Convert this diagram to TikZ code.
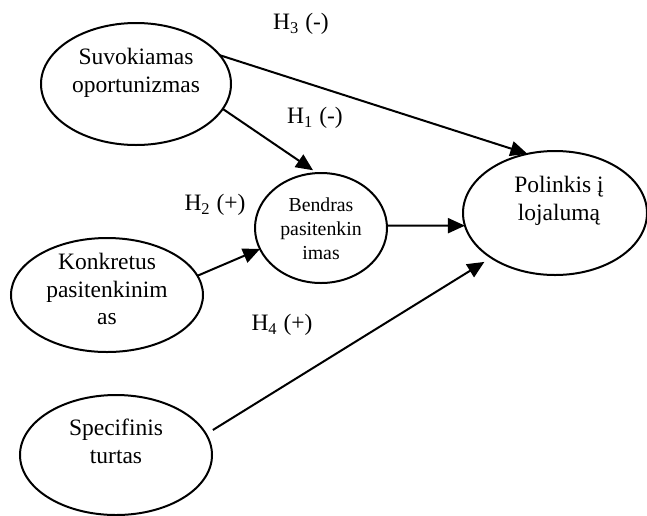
\documentclass[tikz,border=0pt]{standalone}
\usepackage{fontspec}
\setmainfont{Liberation Serif}
\usetikzlibrary{shapes.geometric,arrows.meta}

\begin{document}
\begin{tikzpicture}[x=0.5pt,y=-0.5pt,
	konstruktas/.style={draw,ellipse,line width=1pt,inner sep=0,outer sep=0},
	tekstas/.style={align=center,inner sep=0,font=\fontsize{11.75}{13.85}\selectfont},
	mazastekstas/.style={align=center,inner sep=0,font=\fontsize{9.9}{12}\selectfont},
	hipoteze/.style={inner sep=0,font=\fontsize{11.75}{13.85}\selectfont},
	rodykle/.style={line width=1pt,-{Triangle[length=8.5pt,width=7.5pt]}}]
	\useasboundingbox (0,0) rectangle (647,515);
	\node[konstruktas,minimum width=95pt,minimum height=61pt] (suvok) at (136,84) {};
	\node[konstruktas,minimum width=96pt,minimum height=57pt] (konkr) at (107,295) {};
	\node[konstruktas,minimum width=96pt,minimum height=60pt] (specif) at (116,455) {};
	\node[konstruktas,minimum width=66pt,minimum height=55pt] (bendr) at (321,228) {};
	\node[konstruktas,minimum width=92pt,minimum height=62pt] (polink) at (555,213) {};
	\node[tekstas] (suvok-t) at (136,73) {Suvokiamas\\oportunizmas};
	\node[tekstas] (konkr-t) at (107,289) {Konkretus\\pasitenkinim\\as};
	\node[tekstas] (specif-t) at (116,441) {Specifinis\\turtas};
	\node[mazastekstas] (bendr-t) at (321,229) {Bendras\\pasitenkin\\imas};
	\node[tekstas] (polink-t) at (559,201) {Polinkis į\\lojalumą};
	\node[hipoteze] (h3) at (301,24) {H\textsubscript{3} (-)};
	\node[hipoteze] (h1) at (315,118) {H\textsubscript{1} (-)};
	\node[hipoteze] (h2) at (215,205) {H\textsubscript{2} (+)};
	\node[hipoteze] (h4) at (282,325) {H\textsubscript{4} (+)};
	\draw[rodykle] (suvok.19) -- (polink.115);
	\draw[rodykle,shorten >=2.5pt] (suvok.-16) -- (bendr.94);
	\draw[rodykle] (konkr.12) -- (bendr.199);
	\draw[rodykle] (bendr.2) -- (polink.188);
	\draw[rodykle,shorten <=4pt,shorten >=4pt] (specif.13) -- (polink.215);
\end{tikzpicture}
\end{document}
